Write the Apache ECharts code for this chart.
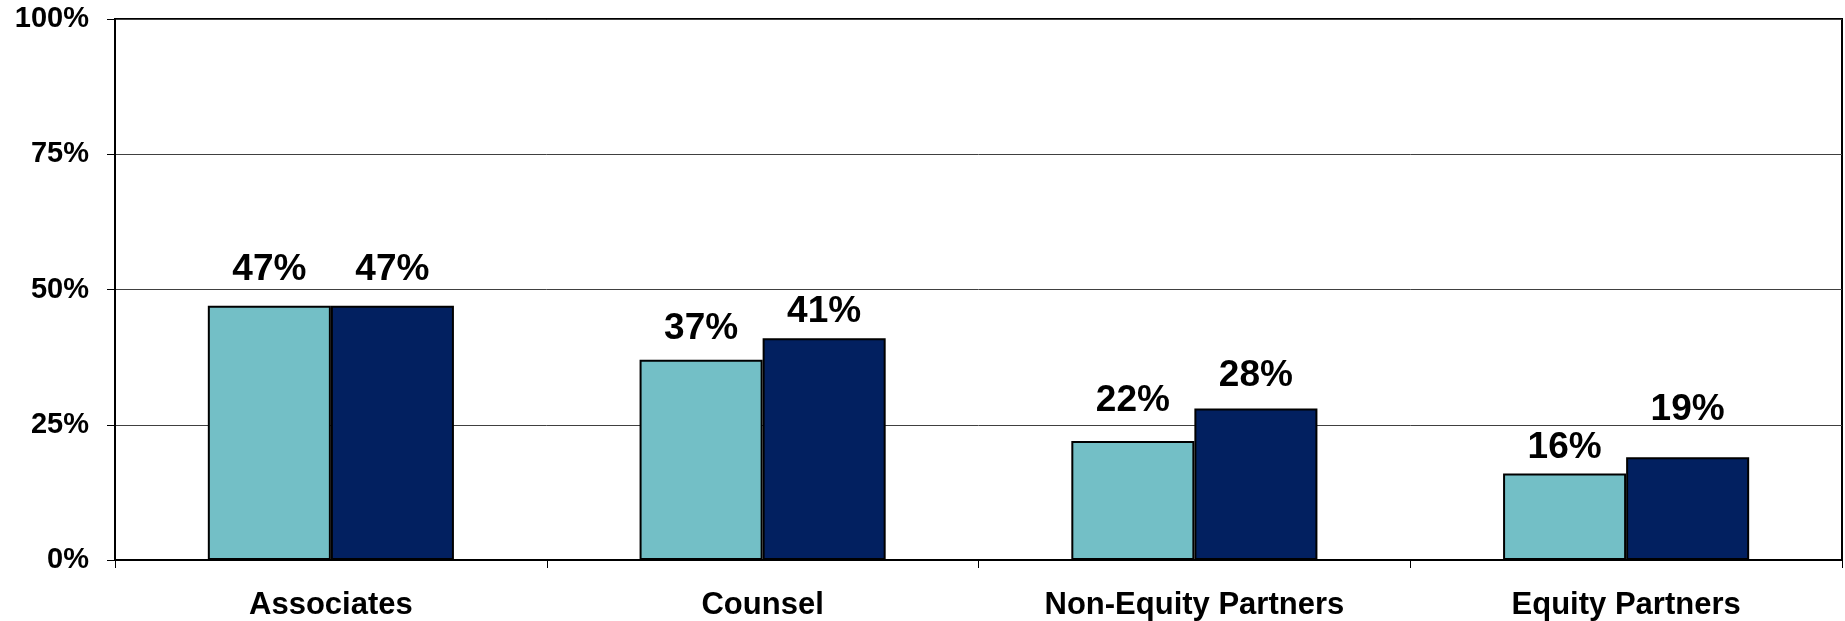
<!DOCTYPE html>
<html>
<head>
<meta charset="utf-8">
<script src="https://cdn.jsdelivr.net/npm/echarts@6/dist/echarts.min.js"></script>
<style>
  html, body { margin: 0; padding: 0; background: #fff; }
  #chart { width: 1845px; height: 621px; }
</style>
</head>
<body>
<div id="chart"></div>
<script>
var categories = ['Associates', 'Counsel', 'Non-Equity Partners', 'Equity Partners']
var seriesA = [47, 37, 22, 16]
var seriesB = [47, 41, 28, 19]
var yTicks = [0, 25, 50, 75, 100]

// label offsets above each bar (the source labels were nudged by hand)
var labelGapA = [17, 13, 22, 7]
var labelGapB = [17, 8, 14, 29]

var font = '"Liberation Sans", Arial, sans-serif'

function withLabels(values, gaps) {
  return values.map(function(v, i) {
    return { value: v, label: { distance: gaps[i] } }
  })
}

var barLabel = {
  show: true,
  position: 'top',
  formatter: '{c}%',
  color: '#000',
  fontFamily: font,
  fontWeight: 'bold',
  fontSize: 37
}

var myChart = echarts.init(document.getElementById('chart'))
var option = {
  animation: false,
  backgroundColor: '#fff',
  grid: {
    left: 115,
    right: 3,
    top: 19,
    bottom: 61,
    show: true,
    borderColor: '#000',
    borderWidth: 2
  },
  xAxis: {
    type: 'category',
    data: categories,
    axisLine: { lineStyle: { color: '#000', width: 2 } },
    axisTick: { show: true, length: 8, lineStyle: { color: '#000', width: 1 } },
    axisLabel: {
      color: '#000',
      fontFamily: font,
      fontWeight: 'bold',
      fontSize: 31,
      margin: 30
    }
  },
  yAxis: {
    type: 'value',
    min: yTicks[0],
    max: yTicks[yTicks.length - 1],
    interval: 25,
    axisLine: { show: true, lineStyle: { color: '#000', width: 2 } },
    axisTick: { show: true, length: 8, lineStyle: { color: '#000', width: 1 } },
    axisLabel: {
      formatter: '{value}%',
      color: '#000',
      fontFamily: font,
      fontWeight: 'bold',
      fontSize: 29,
      margin: 26
    },
    splitLine: { lineStyle: { color: '#404040', width: 1 } }
  },
  series: [
    {
      type: 'bar',
      data: withLabels(seriesA, labelGapA),
      barGap: '0%',
      barCategoryGap: '43%',
      itemStyle: { color: '#73BFC6', borderColor: '#000', borderWidth: 2 },
      label: barLabel
    },
    {
      type: 'bar',
      data: withLabels(seriesB, labelGapB),
      barGap: '0%',
      barCategoryGap: '43%',
      itemStyle: { color: '#022060', borderColor: '#000', borderWidth: 2 },
      label: barLabel
    }
  ]
}
myChart.setOption(option)
</script>
</body>
</html>
